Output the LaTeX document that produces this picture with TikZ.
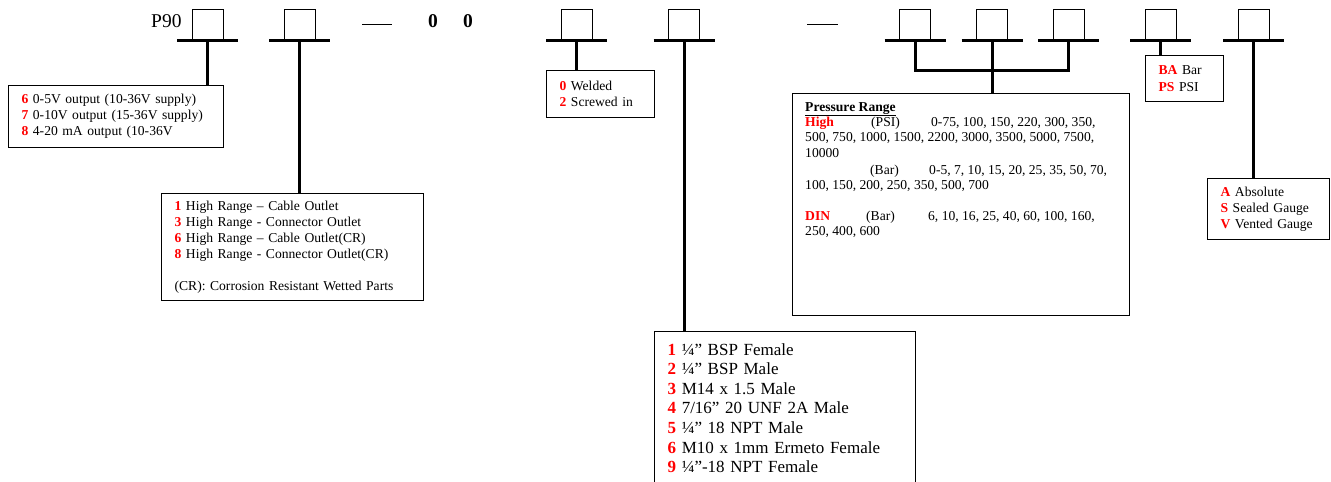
\documentclass[tikz,border=0pt]{standalone}
\usepackage{fontspec}
\setmainfont{Liberation Serif}
\usepackage{xcolor}

\newcommand{\code}[1]{\textcolor{red}{\textbf{#1}}}
\newcommand{\boxfont}{\fontsize{13.6}{16}\selectfont}

\tikzset{
	codebox/.style={draw, line width=0.8pt, minimum width=31pt, minimum height=31pt, inner sep=0pt},
	infobox/.style={draw, line width=1.2pt, anchor=north west, align=left, inner xsep=13pt, inner ysep=0pt, font=\boxfont},
	bar/.style={line width=3pt},
}

\begin{document}
\begin{tikzpicture}[x=1pt, y=-1pt]
	\useasboundingbox (0,0) rectangle (1331,482);
	\clip (0,0) rectangle (1331,482);

	\node[anchor=base west, inner sep=0pt, font=\fontsize{19.5}{22}\selectfont] (P90) at (151,27) {P90};
	\node[anchor=base, inner sep=0pt, font=\fontsize{19.5}{22}\selectfont] (Z-01) at (433,27) {\textbf{0}};
	\node[anchor=base, inner sep=0pt, font=\fontsize{19.5}{22}\selectfont] (Z-02) at (468,27) {\textbf{0}};

	\draw[line width=1pt] (362,24) -- (392,24);
	\draw[line width=1pt] (807,24) -- (838,24);

	\node[codebox] (C-01) at ( 207.5, 24.5) {};
	\node[codebox] (C-02) at ( 299.5, 24.5) {};
	\node[codebox] (C-03) at ( 576.5, 24.5) {};
	\node[codebox] (C-04) at ( 684.0, 24.5) {};
	\node[codebox] (C-05) at ( 915.0, 24.5) {};
	\node[codebox] (C-06) at ( 992.0, 24.5) {};
	\node[codebox] (C-07) at (1068.5, 24.5) {};
	\node[codebox] (C-08) at (1160.5, 24.5) {};
	\node[codebox] (C-09) at (1253.5, 24.5) {};

	\draw[bar] ([xshift=-30.5pt]C-01.south) -- ([xshift=30.5pt]C-01.south);
	\draw[bar] ([xshift=-30.5pt]C-02.south) -- ([xshift=30.5pt]C-02.south);
	\draw[bar] ([xshift=-30.5pt]C-03.south) -- ([xshift=30.5pt]C-03.south);
	\draw[bar] ([xshift=-30.5pt]C-04.south) -- ([xshift=30.5pt]C-04.south);
	\draw[bar] ([xshift=-30.5pt]C-05.south) -- ([xshift=30.5pt]C-05.south);
	\draw[bar] ([xshift=-30.5pt]C-06.south) -- ([xshift=30.5pt]C-06.south);
	\draw[bar] ([xshift=-30.5pt]C-07.south) -- ([xshift=30.5pt]C-07.south);
	\draw[bar] ([xshift=-30.5pt]C-08.south) -- ([xshift=30.5pt]C-08.south);
	\draw[bar] ([xshift=-30.5pt]C-09.south) -- ([xshift=30.5pt]C-09.south);

	\node[infobox, text width=189pt, minimum height=62pt] (T-01) at (8,85) {\code{6} 0-5V output (10-36V supply)\\ \code{7} 0-10V output (15-36V supply)\\ \code{8} 4-20 mA output (10-36V};

	\node[infobox, text width=236pt, minimum height=107pt] (T-02) at (161,193) {\code{1} High Range – Cable Outlet\\ \code{3} High Range - Connector Outlet\\ \code{6} High Range – Cable Outlet(CR)\\ \code{8} High Range - Connector Outlet(CR)\\[16pt] (CR): Corrosion Resistant Wetted Parts};

	\node[infobox, text width=82pt, minimum height=47pt] (T-03) at (546,70) {\code{0} Welded\\ \code{2} Screwed in};

	\node[infobox, text width=311pt, minimum height=222pt] (T-04) at (792,93) {};
	\node[anchor=north west, align=left, inner sep=0pt, font=\fontsize{13.6}{15.3}\selectfont] (T-04t) at ([shift={(13pt,-9pt)}]T-04.north west) {\textbf{\underline{Pressure Range}}\\
		\makebox[66pt][l]{\code{High}}\makebox[60pt][l]{(PSI)}0-75, 100, 150, 220, 300, 350,\\
		500, 750, 1000, 1500, 2200, 3000, 3500, 5000, 7500,\\
		10000\\[2pt]
		\hspace*{65pt}\makebox[59pt][l]{(Bar)}0-5, 7, 10, 15, 20, 25, 35, 50, 70,\\
		100, 150, 200, 250, 350, 500, 700\\[15.3pt]
		\makebox[61pt][l]{\code{DIN}}\makebox[62pt][l]{(Bar)}6, 10, 16, 25, 40, 60, 100, 160,\\
		250, 400, 600};

	\node[infobox, text width=52pt, minimum height=46pt, font=\fontsize{13.6}{17}\selectfont] (T-05) at (1145,55) {\code{BA} Bar\\ \code{PS} PSI};

	\node[infobox, text width=96pt, minimum height=61pt] (T-06) at (1207,178) {\code{A} Absolute\\ \code{S} Sealed Gauge\\ \code{V} Vented Gauge};

	\node[infobox, text width=235pt, minimum height=153pt, font=\fontsize{17}{19.6}\selectfont] (T-07) at (654,331) {\code{1} ¼” BSP Female\\ \code{2} ¼” BSP Male\\ \code{3} M14 x 1.5 Male\\ \code{4} 7/16” 20 UNF 2A Male\\ \code{5} ¼” 18 NPT Male\\ \code{6} M10 x 1mm Ermeto Female\\ \code{9} ¼”-18 NPT Female};

	\coordinate (J) at (992,70);

	\draw[bar] (C-01.south) -- (C-01.south |- T-01.north);
	\draw[bar] (C-02.south) -- (C-02.south |- T-02.north);
	\draw[bar] (C-03.south) -- (C-03.south |- T-03.north);
	\draw[bar] (C-04.south) -- (C-04.south |- T-07.north);
	\draw[bar] (C-05.south) -- (C-05.south |- J) -- (C-07.south |- J) -- (C-07.south);
	\draw[bar] (C-06.south) -- (C-06.south |- T-04.north);
	\draw[bar] (C-08.south) -- (C-08.south |- T-05.north);
	\draw[bar] (C-09.south) -- (C-09.south |- T-06.north);

\end{tikzpicture}
\end{document}
